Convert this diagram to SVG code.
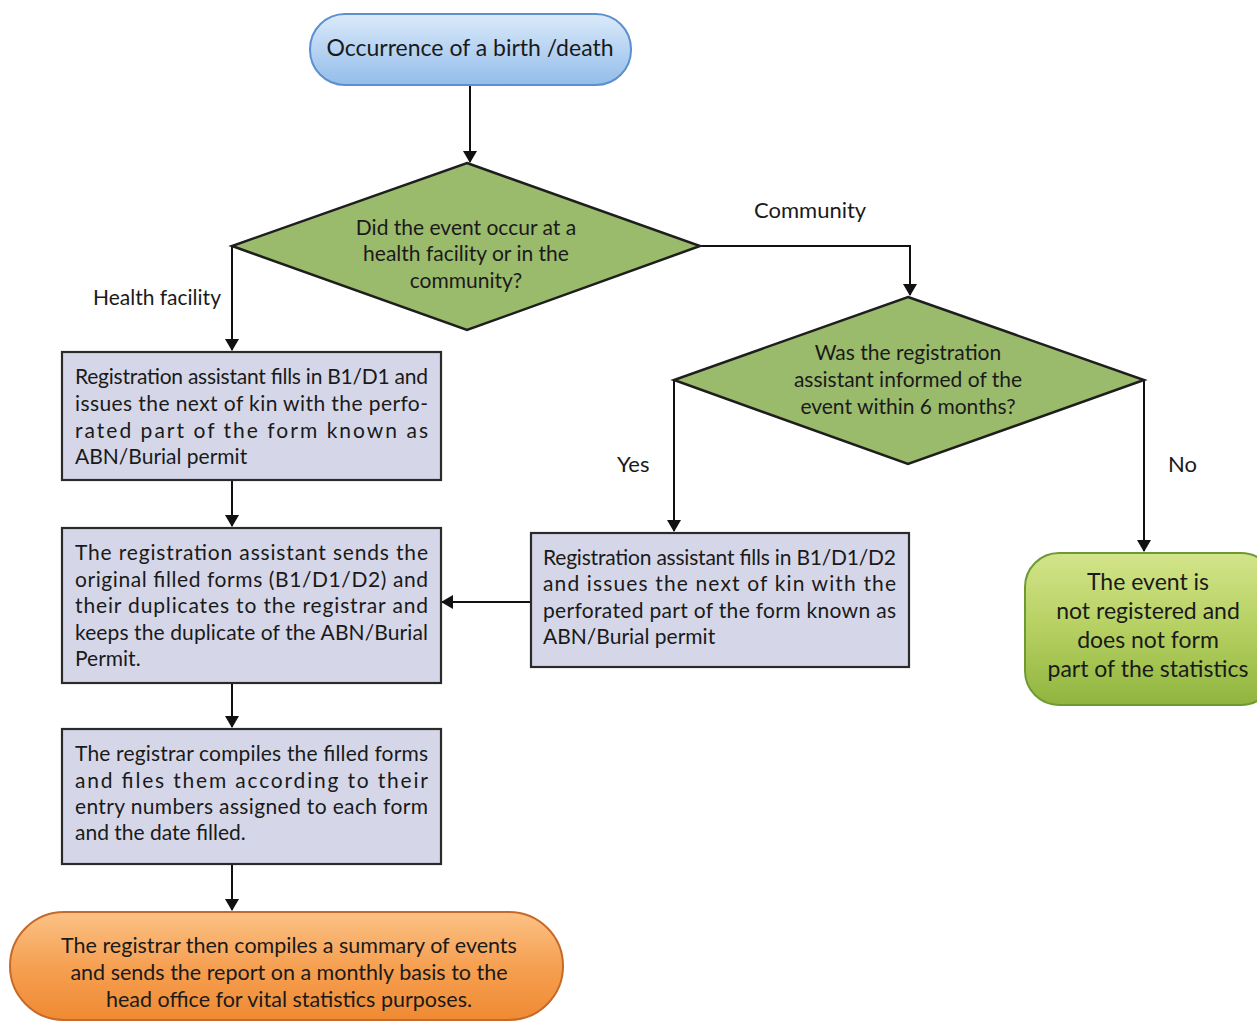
<svg xmlns="http://www.w3.org/2000/svg" width="1257" height="1022" viewBox="0 0 1257 1022">
<style>
text{font-family:Lato,"Open Sans","Liberation Sans",sans-serif;fill:#1a1a1a;}
.t{font-size:21px;}
.l{font-size:22px;}
.c{text-anchor:middle;}
.box{fill:#d5d7e8;stroke:#2a2a2a;stroke-width:2.2;}
.dia{fill:#9aba6c;stroke:#1e1e1e;stroke-width:2.5;stroke-linejoin:miter;}
.conn{fill:none;stroke:#111;stroke-width:2;}
</style>
<defs>
<marker id="ah" markerWidth="12" markerHeight="14" refX="11" refY="7" orient="auto" markerUnits="userSpaceOnUse" viewBox="0 0 12 14">
<path d="M0,0 L12,7 L0,14 Z" fill="#111"/>
</marker>
<linearGradient id="gBlue" x1="0" y1="0" x2="0" y2="1">
<stop offset="0" stop-color="#dbeafa"/><stop offset="1" stop-color="#93bdea"/>
</linearGradient>
<linearGradient id="gGreen" x1="0" y1="0" x2="0" y2="1">
<stop offset="0" stop-color="#d3e48a"/><stop offset="0.5" stop-color="#b5d061"/><stop offset="1" stop-color="#8fb43e"/>
</linearGradient>
<linearGradient id="gOrange" x1="0" y1="0" x2="0" y2="1">
<stop offset="0" stop-color="#fbc286"/><stop offset="0.5" stop-color="#f6a052"/><stop offset="1" stop-color="#ef8a33"/>
</linearGradient>
</defs>

<g id="connectors">
<path class="conn" d="M470,85 L470,162" marker-end="url(#ah)"/>
<path class="conn" d="M232,246 L232,350" marker-end="url(#ah)"/>
<path class="conn" d="M700,246 L910,246 L910,295" marker-end="url(#ah)"/>
<path class="conn" d="M674,380 L674,531" marker-end="url(#ah)"/>
<path class="conn" d="M1144,380 L1144,551" marker-end="url(#ah)"/>
<path class="conn" d="M232,480 L232,526" marker-end="url(#ah)"/>
<path class="conn" d="M531,602 L442,602" marker-end="url(#ah)"/>
<path class="conn" d="M232,683 L232,727" marker-end="url(#ah)"/>
<path class="conn" d="M232,864 L232,910" marker-end="url(#ah)"/>
<text class="t" x="93" y="305">Health facility</text>
<text class="l" x="754" y="218">Community</text>
<text class="l" x="617" y="472">Yes</text>
<text class="l" x="1168" y="472">No</text>
</g>

<g id="start">
<rect x="310" y="14" width="321" height="71" rx="35" fill="url(#gBlue)" stroke="#5b8fd0" stroke-width="2"/>
<text class="c" x="470" y="56" font-size="23">Occurrence of a birth /death</text>
</g>

<g id="decision-location">
<polygon class="dia" points="467,163 700,246 467,330 232,246"/>
<text class="t c" x="466" y="235">Did the event occur at a</text>
<text class="t c" x="466" y="261">health facility or in the</text>
<text class="t c" x="466" y="288">community?</text>
</g>

<g id="decision-timing">
<polygon class="dia" points="908,297 1144,380 908,464 674,380"/>
<text class="t c" x="908" y="360">Was the registration</text>
<text class="t c" x="908" y="387">assistant informed of the</text>
<text class="t c" x="908" y="414">event within 6 months?</text>
</g>

<g id="box-health-facility">
<rect class="box" x="62" y="352" width="379" height="128"/>
<text class="t" x="75" y="384" textLength="353" lengthAdjust="spacing">Registration assistant fills in B1/D1 and</text>
<text class="t" x="75" y="411" textLength="353" lengthAdjust="spacing">issues the next of kin with the perfo-</text>
<text class="t" x="75" y="438" textLength="353" lengthAdjust="spacing">rated part of the form known as</text>
<text class="t" x="75" y="464">ABN/Burial permit</text>
</g>

<g id="box-send">
<rect class="box" x="62" y="528" width="379" height="155"/>
<text class="t" x="75" y="560" textLength="353" lengthAdjust="spacing">The registration assistant sends the</text>
<text class="t" x="75" y="587" textLength="353" lengthAdjust="spacing">original filled forms (B1/D1/D2) and</text>
<text class="t" x="75" y="613" textLength="353" lengthAdjust="spacing">their duplicates to the registrar and</text>
<text class="t" x="75" y="640" textLength="353" lengthAdjust="spacing">keeps the duplicate of the ABN/Burial</text>
<text class="t" x="75" y="666">Permit.</text>
</g>

<g id="box-compile">
<rect class="box" x="62" y="729" width="379" height="135"/>
<text class="t" x="75" y="761" textLength="353" lengthAdjust="spacing">The registrar compiles the filled forms</text>
<text class="t" x="75" y="788" textLength="353" lengthAdjust="spacing">and files them according to their</text>
<text class="t" x="75" y="814" textLength="353" lengthAdjust="spacing">entry numbers assigned to each form</text>
<text class="t" x="75" y="840">and the date filled.</text>
</g>

<g id="box-community-yes">
<rect class="box" x="531" y="533" width="378" height="134"/>
<text class="t" x="543" y="565" textLength="353" lengthAdjust="spacing">Registration assistant fills in B1/D1/D2</text>
<text class="t" x="543" y="591" textLength="353" lengthAdjust="spacing">and issues the next of kin with the</text>
<text class="t" x="543" y="618" textLength="353" lengthAdjust="spacing">perforated part of the form known as</text>
<text class="t" x="543" y="644">ABN/Burial permit</text>
</g>

<g id="not-registered">
<rect x="1025" y="553" width="250" height="152" rx="34" fill="url(#gGreen)" stroke="#6e9a33" stroke-width="2"/>
<text class="c" x="1148" y="590" font-size="23">The event is</text>
<text class="c" x="1148" y="619" font-size="23">not registered and</text>
<text class="c" x="1148" y="648" font-size="23">does not form</text>
<text class="c" x="1148" y="677" font-size="23">part of the statistics</text>
</g>

<g id="summary">
<rect x="10" y="912" width="553" height="108" rx="54" fill="url(#gOrange)" stroke="#c8692a" stroke-width="2"/>
<text class="c" x="289" y="953" font-size="21.5">The registrar then compiles a summary of events</text>
<text class="c" x="289" y="980" font-size="21.5">and sends the report on a monthly basis to the</text>
<text class="c" x="289" y="1007" font-size="21.5">head office for vital statistics purposes.</text>
</g>
</svg>
